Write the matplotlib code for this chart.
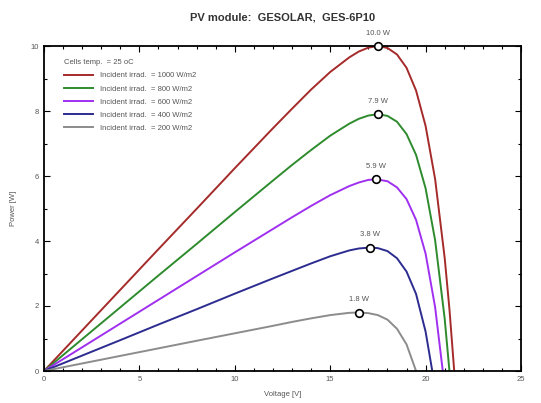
import matplotlib
matplotlib.use("Agg")
import matplotlib.pyplot as plt
from matplotlib.ticker import MultipleLocator

plt.rcParams['font.family'] = ['Liberation Sans', 'DejaVu Sans']

title = "PV module:  GESOLAR,  GES-6P10"
temp_label = "Cells temp.  = 25 oC"
irradiances = [1000, 800, 600, 400, 200]
colors = ["#a52a2a", "#2e8b2e", "#a030f0", "#2c2c90", "#8c8c8c"]

v_1000 = [0, 2, 4, 6, 8, 10, 12, 13, 14, 15, 16, 16.5, 17, 17.5, 18, 18.5, 19, 19.5, 20, 20.5, 21, 21.25, 21.5]
p_1000 = [0, 1.25, 2.50, 3.75, 4.99, 6.24, 7.47, 8.07, 8.66, 9.20, 9.65, 9.83, 9.95, 10.0, 9.94, 9.74, 9.33, 8.63, 7.54, 5.90, 3.48, 1.90, 0]

v_800 = [0, 2, 4, 6, 8, 10, 12, 13, 14, 15, 16, 16.5, 17, 17.5, 18, 18.5, 19, 19.5, 20, 20.5, 21, 21.25]
p_800 = [0, 0.98, 1.96, 2.94, 3.91, 4.89, 5.86, 6.34, 6.80, 7.24, 7.61, 7.76, 7.86, 7.90, 7.85, 7.67, 7.29, 6.65, 5.62, 4.02, 1.61, 0]

v_600 = [0, 2, 4, 6, 8, 10, 12, 13, 14, 15, 16, 16.5, 17, 17.4, 18, 18.5, 19, 19.5, 20, 20.5, 20.9]
p_600 = [0, 0.73, 1.46, 2.19, 2.92, 3.65, 4.37, 4.73, 5.08, 5.41, 5.69, 5.80, 5.88, 5.90, 5.84, 5.65, 5.29, 4.65, 3.61, 1.96, 0]

v_400 = [0, 2, 4, 6, 8, 10, 12, 13, 14, 15, 16, 16.5, 17.1, 17.5, 18, 18.5, 19, 19.5, 20, 20.35]
p_400 = [0, 0.475, 0.95, 1.43, 1.90, 2.38, 2.85, 3.08, 3.31, 3.53, 3.71, 3.77, 3.80, 3.78, 3.69, 3.47, 3.06, 2.37, 1.21, 0]

v_200 = [0, 2, 4, 6, 8, 10, 12, 13, 14, 15, 16, 16.5, 17, 17.5, 18, 18.5, 19, 19.5]
p_200 = [0, 0.232, 0.465, 0.697, 0.93, 1.16, 1.39, 1.51, 1.62, 1.72, 1.79, 1.80, 1.78, 1.72, 1.58, 1.30, 0.82, 0]

mpp_v = [17.5, 17.5, 17.4, 17.1, 16.5]
mpp_p = [10.0, 7.9, 5.9, 3.8, 1.8]
mpp_labels = ["10.0 W", "7.9 W", "5.9 W", "3.8 W", "1.8 W"]

x_ticks = [0, 5, 10, 15, 20, 25]
y_ticks = [0, 2, 4, 6, 8, 10]

volts = [v_1000, v_800, v_600, v_400, v_200]
powers = [p_1000, p_800, p_600, p_400, p_200]

fig = plt.figure(figsize=(5.41, 4.03), dpi=100)
ax = fig.add_axes([44/541, 1-371/403, (521-44)/541, (371-46)/403])

handles = []
for v, p, c, g in zip(volts, powers, colors, irradiances):
    h, = ax.plot(v, p, color=c, lw=1.4, solid_joinstyle='round',
                 label=f"Incident irrad.  = {g} W/m2")
    handles.append(h)

for x, y, lab in zip(mpp_v, mpp_p, mpp_labels):
    ax.plot([x], [y], marker='o', ms=5.5, mfc='white', mec='black', mew=1.2,
            clip_on=False, zorder=5)
    ax.text(x, y + 0.28, lab, ha='center', va='bottom', fontsize=5.5, color='#555555')

ax.set_xlim(0, 25)
ax.set_ylim(0, 10)
ax.set_xticks(x_ticks)
ax.set_yticks(y_ticks)
ax.xaxis.set_minor_locator(MultipleLocator(1))
ax.yaxis.set_minor_locator(MultipleLocator(1))
ax.tick_params(which='both', direction='in', top=True, right=True,
               labelsize=5.5, labelcolor='#555555', width=0.8)
ax.tick_params(which='major', length=4)
ax.tick_params(which='minor', length=2)
for s in ax.spines.values():
    s.set_linewidth(1.3)

ax.set_xlabel("Voltage [V]", fontsize=5.5, color='#555555', labelpad=6)
ax.set_ylabel("Power [W]", fontsize=5.5, color='#555555', labelpad=10)
fig.text(283/541, 1-18/403, title, ha='center', va='center', fontsize=8,
         fontweight='bold', color='#333333')

leg = ax.legend(handles=handles, loc='upper left', bbox_to_anchor=(0.028, 0.98),
                title=temp_label, title_fontsize=5.5, fontsize=5.5, frameon=False,
                handlelength=3.8, handletextpad=0.9, labelspacing=0.75,
                alignment='left')
for t in leg.get_texts():
    t.set_color('#555555')
leg.get_title().set_color('#555555')

fig.savefig("out.png", dpi=100)
